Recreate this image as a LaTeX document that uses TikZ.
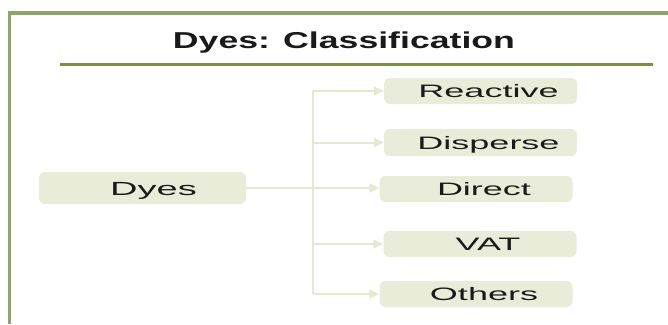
\documentclass[tikz,border=0pt]{standalone}
\usepackage{fontspec}
\setmainfont{Liberation Sans}
\newfontfamily\titlefont[FakeStretch=1.55]{Liberation Sans}
\newfontfamily\boxfont[FakeStretch=2.0]{Liberation Sans}
\usetikzlibrary{arrows.meta}
\definecolor{framegreen}{RGB}{143,166,106}
\definecolor{rulegreen}{RGB}{119,145,63}
\definecolor{boxfill}{RGB}{233,236,216}
\definecolor{linkcol}{RGB}{229,233,210}
\definecolor{inkcol}{RGB}{26,26,26}
\tikzset{
  item/.style={fill=boxfill, rounded corners=6pt, text=inkcol,
    font=\boxfont\fontsize{18}{20}\selectfont,
    minimum width=193pt, minimum height=26pt, inner sep=0pt,
    text height=13pt, text depth=0pt,
    execute at begin node=\hspace*{16pt}},
  link/.style={draw=linkcol, line width=2pt},
  tip/.style={-{Triangle[length=10pt,width=9pt]}}
}
\begin{document}
\begin{tikzpicture}[x=1pt,y=-1pt]
            \useasboundingbox (0,0) rectangle (668,324);
            % frame and heading
            \draw[framegreen, line width=3.5pt] (9.5,324) |- (668,13);
            \node[anchor=base, text=inkcol, font=\titlefont\bfseries\fontsize{23}{26}\selectfont] (title) at (344,48.5) {Dyes: Classification};
            \draw[rulegreen, line width=3pt] (60,64.5) -- (653,64.5);

            % root
            \node[item, minimum width=207pt, minimum height=32pt, text height=14pt,
                  font=\boxfont\fontsize{19}{21}\selectfont,
                  execute at begin node=\hspace*{6pt}] (dyes) at (142.5,188) {Dyes};

            % classes
            \node[item] (reactive) at (480.5,91) {Reactive};
            \node[item, minimum height=27pt] (disperse) at (480.5,142.5) {Disperse};
            \node[item] (direct) at (476,189) {Direct};
            \node[item] (vat) at (480,244) {VAT};
            \node[item] (others) at (476,294) {Others};

            % connectors
            \coordinate (fork) at (313,188);
            \draw[link] (dyes.east) -- (fork);
            \draw[link] (fork |- reactive.west) -- (fork |- others.west);
            \foreach \c in {reactive,disperse,vat,others}
                \draw[link, tip] (fork |- \c.west) -- (\c.west);
            \draw[link, tip] (fork) -- (direct.west |- fork);
\end{tikzpicture}
\end{document}
